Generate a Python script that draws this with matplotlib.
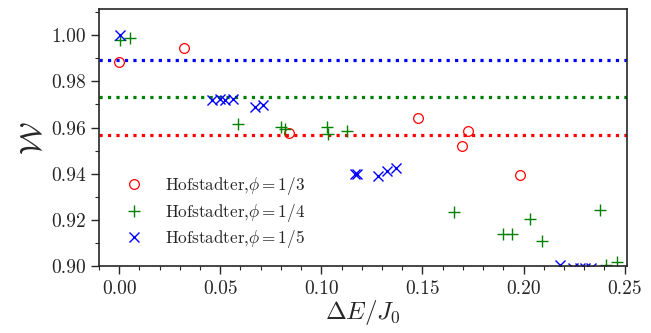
import matplotlib
matplotlib.use("Agg")
import matplotlib.pyplot as plt
from matplotlib.ticker import MultipleLocator

plt.rcParams['font.family'] = 'serif'
plt.rcParams['font.serif'] = ['cmr10']
plt.rcParams['mathtext.fontset'] = 'cm'
plt.rcParams['axes.formatter.use_mathtext'] = True
plt.rcParams['axes.unicode_minus'] = False

dark = '#262626'

# phi = 1/3
x13 = [0.000, 0.032, 0.084, 0.148, 0.1696, 0.1723, 0.1983]
y13 = [0.9884, 0.9942, 0.9576, 0.9642, 0.9521, 0.9587, 0.9395]
# phi = 1/4
x14 = [0.0005, 0.0054, 0.059, 0.080, 0.082, 0.1029, 0.1034, 0.1125, 0.1654,
       0.1899, 0.1945, 0.2031, 0.2093, 0.238, 0.241, 0.2464]
y14 = [0.998, 0.9988, 0.9615, 0.9603, 0.9595, 0.9603, 0.9574, 0.9586, 0.9234,
       0.9139, 0.9139, 0.9203, 0.9111, 0.9245, 0.9007, 0.902]
# phi = 1/5
x15 = [0.0002, 0.0458, 0.0499, 0.0524, 0.0565, 0.0672, 0.0713, 0.1166, 0.1177,
       0.1281, 0.1323, 0.1369, 0.2179, 0.2245, 0.2278, 0.2302, 0.2335]
y15 = [0.9998, 0.9719, 0.9723, 0.9719, 0.9723, 0.969, 0.9697, 0.9401, 0.9401,
       0.9391, 0.9413, 0.9424, 0.9007, 0.8995, 0.8993, 0.8993, 0.8993]
# reference levels
ref_levels = [0.989, 0.973, 0.957]
ref_colors = ['blue', 'green', 'red']

labels = [r'Hofstadter,$\phi=1/3$', r'Hofstadter,$\phi=1/4$', r'Hofstadter,$\phi=1/5$']

fig = plt.figure(figsize=(6.51, 3.33), dpi=100)
ax = fig.add_axes([0.152, 0.1997, 0.8107, 0.7718])

for lev, c in zip(ref_levels, ref_colors):
    ax.axhline(lev, color=c, linestyle=':', linewidth=2.3, zorder=1)

ax.plot(x13, y13, linestyle='none', marker='o', mfc='none', mec='red', ms=7, mew=0.9, label=labels[0])
ax.plot(x14, y14, linestyle='none', marker='+', color='green', ms=8, mew=1.0, label=labels[1])
ax.plot(x15, y15, linestyle='none', marker='x', color='blue', ms=7.5, mew=1.0, label=labels[2])

ax.set_xlim(-0.01, 0.251)
ax.set_ylim(0.9, 1.011)
ax.xaxis.set_major_locator(MultipleLocator(0.05))
ax.xaxis.set_minor_locator(MultipleLocator(0.01))
ax.yaxis.set_major_locator(MultipleLocator(0.02))
ax.yaxis.set_minor_locator(MultipleLocator(0.01))
ax.xaxis.set_major_formatter(matplotlib.ticker.FormatStrFormatter('%.2f'))
ax.yaxis.set_major_formatter(matplotlib.ticker.FormatStrFormatter('%.2f'))

ax.tick_params(which='major', direction='out', length=6, width=1, colors=dark, labelsize=14, labelcolor=dark)
ax.tick_params(which='minor', direction='out', length=3, width=0.8, colors=dark)
for s in ax.spines.values():
    s.set_color(dark)
    s.set_linewidth(1.2)

ax.set_xlabel(r'$\Delta E/J_0$', fontsize=18, color=dark, labelpad=0)
ax.set_ylabel(r'$\mathcal{W}$', fontsize=22, color=dark, labelpad=2)

leg = ax.legend(loc='lower left', bbox_to_anchor=(0.022, 0.038), frameon=False, fontsize=12.3,
                labelcolor=dark, handletextpad=0.8, borderaxespad=0, labelspacing=0.25)

fig.savefig('out.png', dpi=100)
